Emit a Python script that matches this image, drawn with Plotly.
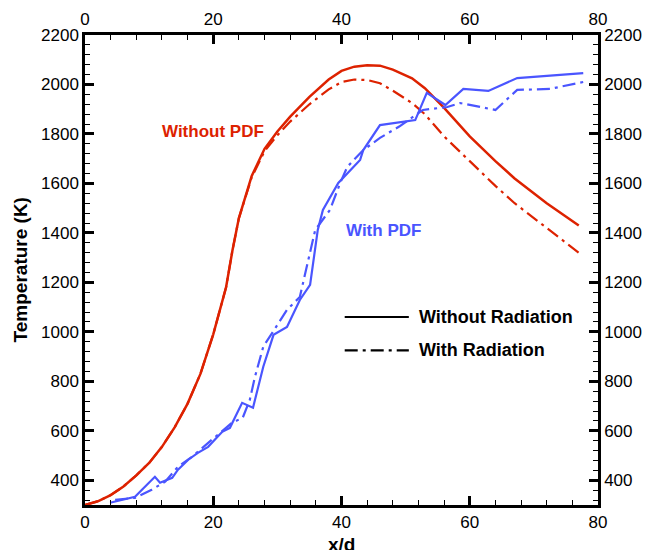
import plotly.graph_objects as go

# red: without PDF
x_red = [0, 2, 4, 6, 8, 10, 12, 14, 16, 18, 20, 22, 23, 24, 26, 28, 30, 32, 35, 38, 40, 42, 44, 46, 48, 51, 53, 56, 60, 64, 67, 72, 77]
t_red_norad = [300, 315, 340, 375, 420, 470, 535, 615, 710, 830, 990, 1180, 1330, 1460, 1630, 1740, 1810, 1870, 1950, 2020, 2055, 2072, 2078, 2076, 2060, 2025, 1985, 1905, 1790, 1690, 1620, 1520, 1430]
t_red_rad = [300, 315, 340, 375, 420, 470, 535, 615, 710, 830, 990, 1180, 1330, 1460, 1625, 1730, 1795, 1850, 1920, 1980, 2010, 2020, 2018, 2005, 1975, 1925, 1880, 1790, 1690, 1590, 1520, 1420, 1320]

# blue: with PDF
x_blue_norad = [3.9, 7.8, 9, 10.9, 11.7, 13.6, 14.5, 16.1, 17.6, 19.2, 21.4, 22.6, 24.5, 26.2, 27.8, 29.4, 31.5, 33.5, 35.1, 36.3, 37.1, 39.5, 42.9, 43.4, 46, 49.1, 51.5, 53.3, 56.2, 59, 62.9, 67.4, 77.7]
t_blue_norad = [309, 333, 365, 414, 390, 410, 443, 483, 511, 535, 596, 612, 713, 693, 859, 988, 1020, 1129, 1190, 1412, 1493, 1602, 1695, 1735, 1836, 1848, 1856, 1966, 1917, 1982, 1974, 2026, 2046]
x_blue_rad = [4.7, 7.8, 10.4, 12.5, 14.5, 16.7, 19.8, 22.9, 24.6, 25.7, 26.5, 27.8, 29.2, 31.5, 33.5, 35.9, 38.2, 39.8, 40.9, 43.4, 46, 49, 52.7, 56.5, 58.5, 64, 67.4, 72.5, 77.7]
t_blue_rad = [321, 329, 362, 394, 455, 495, 564, 632, 653, 725, 818, 940, 996, 1089, 1141, 1412, 1493, 1602, 1667, 1735, 1784, 1830, 1897, 1909, 1925, 1897, 1978, 1982, 2010]

x_ticks = [0, 20, 40, 60, 80]
y_ticks = [400, 600, 800, 1000, 1200, 1400, 1600, 1800, 2000, 2200]

RED = "#dd2200"
BLUE = "#4a55ff"
DASHDOT = "13px,5px,3px,5px"
FONT = "Liberation Sans, Arial, sans-serif"

fig = go.Figure()
fig.add_trace(go.Scatter(x=x_red, y=t_red_norad, mode="lines", line=dict(color=RED, width=2.5), showlegend=False))
fig.add_trace(go.Scatter(x=x_red, y=t_red_rad, mode="lines", line=dict(color=RED, width=2.2, dash=DASHDOT), showlegend=False))
fig.add_trace(go.Scatter(x=x_blue_norad, y=t_blue_norad, mode="lines", line=dict(color=BLUE, width=2.2), showlegend=False))
fig.add_trace(go.Scatter(x=x_blue_rad, y=t_blue_rad, mode="lines", line=dict(color=BLUE, width=2.2, dash=DASHDOT), showlegend=False))
# dummy trace so the top/right axes are drawn
fig.add_trace(go.Scatter(x=[0], y=[300], xaxis="x2", yaxis="y2", mode="markers",
                         marker=dict(opacity=0), hoverinfo="skip", showlegend=False))

axis_common = dict(
    showgrid=False, zeroline=False, showline=True, linecolor="black", linewidth=2.5,
    ticks="inside", ticklen=9, tickwidth=2.5, tickcolor="black", automargin=False,
    tickfont=dict(family=FONT, size=17, color="black"),
)
x_minor = dict(dtick=4, ticks="inside", ticklen=5, tickwidth=1.2, tickcolor="black")
y_minor = dict(tick0=400, dtick=40, ticks="inside", ticklen=5, tickwidth=1.2, tickcolor="black")

# the page body adds an 8px offset, so the figure is sized to fit the window
fig.update_layout(
    width=645, height=542,
    margin=dict(l=77, r=55, t=27, b=45),
    plot_bgcolor="white", paper_bgcolor="white",
    xaxis=dict(range=[0, 80], tickvals=x_ticks, minor=x_minor, **axis_common),
    xaxis2=dict(range=[0, 80], tickvals=x_ticks, overlaying="x", side="top", minor=x_minor,
                **axis_common),
    yaxis=dict(range=[300, 2200], tickvals=y_ticks, minor=y_minor, **axis_common),
    yaxis2=dict(range=[300, 2200], tickvals=y_ticks, overlaying="y", side="right", minor=y_minor,
                **axis_common),
)

# axis titles
fig.add_annotation(xref="paper", yref="paper", x=0.5, y=-0.085, yshift=-12, text="<b>x/d</b>", showarrow=False,
                   font=dict(family=FONT, size=19, color="black"))
fig.add_annotation(xref="paper", yref="paper", x=-0.123, y=0.5, xshift=-14, text="<b>Temperature (K)</b>", textangle=-90,
                   showarrow=False, font=dict(family=FONT, size=19, color="black"))

fig.add_annotation(x=20, y=1810, text="<b>Without PDF</b>", showarrow=False,
                   font=dict(family=FONT, size=17, color=RED))
fig.add_annotation(x=46.5, y=1410, text="<b>With PDF</b>", showarrow=False,
                   font=dict(family=FONT, size=17, color=BLUE))

# legend
fig.add_shape(type="line", x0=40.5, x1=50.5, y0=1060, y1=1060, line=dict(color="black", width=2.2))
fig.add_shape(type="line", x0=40.5, x1=50.5, y0=925, y1=925, line=dict(color="black", width=2.2, dash=DASHDOT))
fig.add_annotation(x=51.8, y=1060, xanchor="left", text="<b>Without Radiation</b>", showarrow=False,
                   font=dict(family=FONT, size=18, color="black"))
fig.add_annotation(x=51.8, y=925, xanchor="left", text="<b>With Radiation</b>", showarrow=False,
                   font=dict(family=FONT, size=18, color="black"))

fig.write_html("out.html")
